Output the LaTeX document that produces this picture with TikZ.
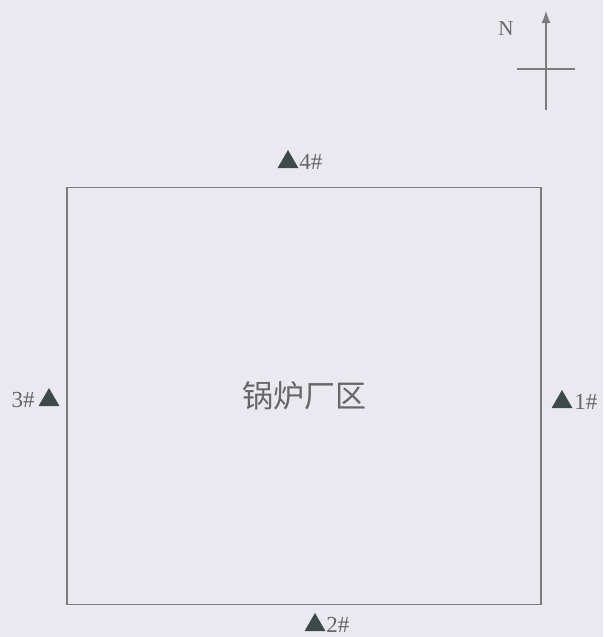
\documentclass[tikz,border=0pt]{standalone}
\usepackage{fontspec}
\setmainfont{Liberation Serif}
\newfontfamily\cjk{Noto Sans CJK SC}
\usetikzlibrary{positioning,shapes.geometric,arrows.meta}
\definecolor{paper}{HTML}{E9E9EF}
\definecolor{edge}{HTML}{7C7C80}
\definecolor{ink}{HTML}{66666A}
\definecolor{mark}{HTML}{3E4A4A}
\tikzset{
  site/.style={regular polygon, regular polygon sides=3, fill=mark, minimum size=24pt, inner sep=0pt},
  sitelabel/.style={text=ink, font=\fontsize{23}{23}\selectfont, inner sep=0pt},
  wall/.style={draw=edge, line width=1.1pt}
}

\begin{document}
\begin{tikzpicture}[x=1pt, y=-1pt]
    \fill[paper] (0,0) rectangle (603,637);
    \useasboundingbox (0,0) rectangle (603,637);
    % plant area
    \node[wall, minimum width=474pt, minimum height=417pt, text=ink,
          font=\cjk\fontsize{31}{31}\selectfont] (plant) at (304,396) {锅炉厂区};
    % monitoring points
    \node[site] (s4) at (288,162) {};
    \node[sitelabel, right=4pt of s4] (l4) {4\#};
    \node[site] (s3) at (49,400) {};
    \node[sitelabel, left=7pt of s3] (l3) {3\#};
    \node[site] (s1) at (562,402) {};
    \node[sitelabel, right=5pt of s1] (l1) {1\#};
    \node[site] (s2) at (315,625) {};
    \node[sitelabel, right=4pt of s2] (l2) {2\#};
    % north arrow
    \coordinate (south) at (546,110);
    \coordinate (north) at (546,11);
    \coordinate (west) at (517,69);
    \coordinate (east) at (575,69);
    \draw[edge, line width=1.1pt, -{Latex[length=12pt,width=9pt]}] (south) -- (north);
    \draw[edge, line width=1.1pt] (west) -- (east);
    \node[text=ink, font=\fontsize{21}{21}\selectfont, inner sep=0pt] (N) at (506,29) {N};
\end{tikzpicture}
\end{document}
